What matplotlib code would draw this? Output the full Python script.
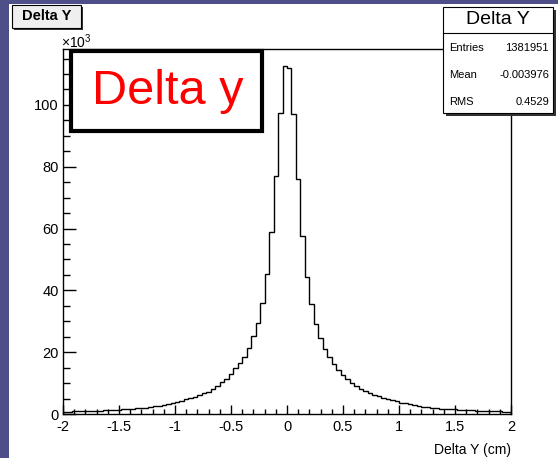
import numpy as np
import matplotlib
matplotlib.use('Agg')
import matplotlib.pyplot as plt
from matplotlib.patches import Rectangle
from matplotlib.ticker import MultipleLocator, FixedLocator, FixedFormatter

plt.rcParams['font.family'] = ['Liberation Sans', 'DejaVu Sans']
plt.rcParams['mathtext.fontset'] = 'custom'
plt.rcParams['mathtext.rm'] = 'Liberation Sans'

# histogram: 100 bins on [-2, 2], counts in units of 10^3
x_min, x_max, n_bins = -2.0, 2.0, 100
counts_k = [
    0.74, 0.78, 0.82, 0.86, 0.90, 0.95, 1.00, 1.07, 1.13, 1.20,
    1.28, 1.35, 1.45, 1.50, 1.60, 1.70, 1.80, 1.95, 2.10, 2.30,
    2.50, 2.75, 3.00, 3.30, 3.60, 3.90, 4.30, 4.70, 5.10, 5.60,
    6.10, 6.70, 7.20, 8.20, 9.10, 10.5, 11.3, 12.9, 14.8, 16.4,
    18.3, 21.3, 25.3, 29.5, 36.0, 45.3, 58.8, 77.0, 97.3, 112.5,
    111.8, 97.0, 76.0, 57.7, 44.4, 35.7, 29.1, 24.5, 20.9, 18.3,
    16.1, 14.1, 12.5, 11.2, 10.1, 9.1, 8.2, 7.5, 6.9, 6.3,
    5.8, 5.3, 4.85, 4.45, 4.05, 3.70, 3.40, 3.10, 2.85, 2.60,
    2.40, 2.20, 2.05, 1.90, 1.77, 1.65, 1.55, 1.46, 1.38, 1.30,
    1.22, 1.15, 1.09, 1.03, 0.98, 0.93, 0.88, 0.84, 0.80, 0.76,
]
x_ticks = [-2, -1.5, -1, -0.5, 0, 0.5, 1, 1.5, 2]
x_tick_labels = ['-2', '-1.5', '-1', '-0.5', '0', '0.5', '1', '1.5', '2']
y_ticks = [0, 20, 40, 60, 80, 100]
y_tick_labels = ['0', '20', '40', '60', '80', '100']
stats_names = ['Entries', 'Mean', 'RMS']
stats_values = ['1381951', '-0.003976', '0.4529']
hist_title = 'Delta Y'
x_title = 'Delta Y (cm)'
label_text = 'Delta y'

W, H = 558, 458
def fx(px): return px / W
def fy(py): return 1 - py / H

fig = plt.figure(figsize=(W / 100, H / 100), dpi=100, facecolor='#4e4f88')
# white canvas
fig.patches.append(Rectangle((fx(9), 0), 1 - fx(9), fy(4), transform=fig.transFigure,
                             facecolor='white', edgecolor='none', zorder=-10))

ax = fig.add_axes([fx(63), fy(414), fx(511) - fx(63), fy(49) - fy(414)])
ax.set_zorder(1)
edges = np.linspace(x_min, x_max, n_bins + 1)
ax.stairs(counts_k, edges, color='black', lw=1.0)
ax.set_xlim(x_min, x_max)
ax.set_ylim(0, 118.1)
for s in ax.spines.values():
    s.set_linewidth(1.0)

ax.xaxis.set_major_locator(FixedLocator(x_ticks))
ax.xaxis.set_major_formatter(FixedFormatter(x_tick_labels))
ax.xaxis.set_minor_locator(MultipleLocator(0.1))
ax.yaxis.set_major_locator(FixedLocator(y_ticks))
ax.yaxis.set_major_formatter(FixedFormatter(y_tick_labels))
ax.yaxis.set_minor_locator(MultipleLocator(5))
ax.tick_params(axis='x', which='major', direction='in', length=6.5, width=1, labelsize=10.5, pad=4.5)
ax.tick_params(axis='x', which='minor', direction='in', length=3.3, width=1)
ax.tick_params(axis='y', which='major', direction='in', length=9.5, width=1, labelsize=10.5, pad=3)
ax.tick_params(axis='y', which='minor', direction='in', length=5, width=1)

fig.text(fx(511), fy(450), x_title, ha='right', va='center', fontsize=10)
fig.text(fx(61), fy(42), r'$\times10^{3}$', ha='left', va='center', fontsize=10)

# "Delta y" label box
fig.patches.append(Rectangle((fx(71), fy(131)), fx(262) - fx(71), fy(51) - fy(131),
                             transform=fig.transFigure, facecolor='white',
                             edgecolor='black', lw=3, zorder=5))
fig.text(fx(168), fy(92), label_text, ha='center', va='center', fontsize=35,
         color='#ff0000', zorder=6)

# title box top-left
fig.patches.append(Rectangle((fx(14), fy(30)), fx(83) - fx(14), fy(7) - fy(30),
                             transform=fig.transFigure, facecolor='#333333',
                             edgecolor='none', zorder=5))
fig.patches.append(Rectangle((fx(12), fy(28)), fx(81) - fx(12), fy(5) - fy(28),
                             transform=fig.transFigure, facecolor='#efefef',
                             edgecolor='black', lw=0.8, zorder=6))
fig.text(fx(46.5), fy(16.5), hist_title, ha='center', va='center', fontsize=10.5,
         fontweight='bold', zorder=7)

# stats box top-right
fig.patches.append(Rectangle((fx(446), fy(116)), fx(556) - fx(446), fy(10) - fy(116),
                             transform=fig.transFigure, facecolor='#333333',
                             edgecolor='none', zorder=5))
fig.patches.append(Rectangle((fx(443), fy(113)), fx(553) - fx(443), fy(7) - fy(113),
                             transform=fig.transFigure, facecolor='white',
                             edgecolor='black', lw=0.8, zorder=6))
fig.lines.append(plt.Line2D([fx(443), fx(553)], [fy(33), fy(33)], transform=fig.transFigure,
                            color='black', lw=0.8, zorder=7))
fig.text(fx(498), fy(20), hist_title, ha='center', va='center', fontsize=14, zorder=7)
for i in range(len(stats_names)):
    yy = fy(48 + 27 * i)
    fig.text(fx(449), yy, stats_names[i], ha='left', va='center', fontsize=8, zorder=7)
    fig.text(fx(549), yy, stats_values[i], ha='right', va='center', fontsize=8, zorder=7)

fig.savefig('out.png', dpi=100, facecolor=fig.get_facecolor())
